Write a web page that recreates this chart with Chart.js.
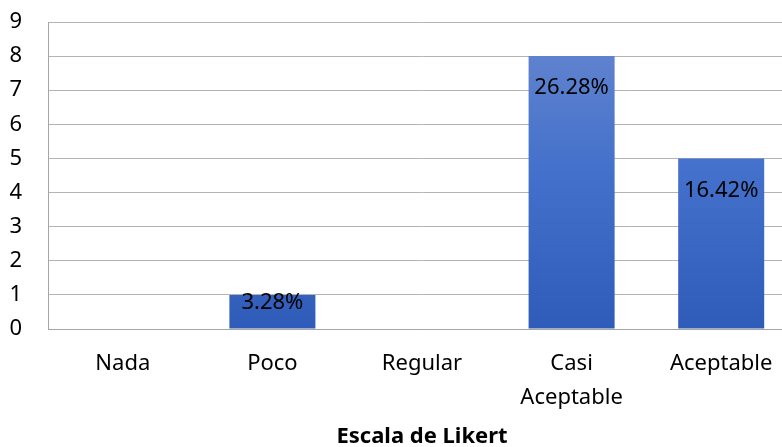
<!DOCTYPE html>
<html>
<head>
<meta charset="utf-8">
<script src="https://cdn.jsdelivr.net/npm/chart.js@4"></script>
<style>
    html, body { margin: 0; padding: 0; background: #fff; overflow: hidden; }
    #wrap { width: 800px; height: 447px; }
</style>
</head>
<body>
<div id="wrap"><canvas id="likertChart"></canvas></div>
<script>
const categorias = [['Nada'], ['Poco'], ['Regular'], ['Casi', 'Aceptable'], ['Aceptable']];
const valores = [0, 1, 0, 8, 5];
const etiquetas = ['', '3.28%', '', '26.28%', '16.42%'];
const ticksY = [0, 1, 2, 3, 4, 5, 6, 7, 8, 9];

const fuente = "'Noto Sans', 'Open Sans', sans-serif";

// Etiquetas dentro del extremo superior de cada barra
const etiquetasBarras = {
    id: 'etiquetasBarras',
    afterDatasetsDraw(chart) {
        const ctx = chart.ctx;
        const meta = chart.getDatasetMeta(0);
        ctx.save();
        ctx.font = `22px ${fuente}`;
        ctx.fillStyle = '#000';
        ctx.textAlign = 'center';
        ctx.textBaseline = 'middle';
        meta.data.forEach((bar, i) => {
            if (!etiquetas[i]) return;
            const y = Math.min(bar.y + 32, bar.base - 26);
            ctx.fillText(etiquetas[i], bar.x, y);
        });
        ctx.restore();
    }
};

const ctx = document.getElementById('likertChart').getContext('2d');

new Chart(ctx, {
    type: 'bar',
    data: {
        labels: categorias,
        datasets: [{
            data: valores,
            backgroundColor: (c) => {
                const area = c.chart.chartArea;
                if (!area) return '#3a68c4';
                const g = c.chart.ctx.createLinearGradient(0, area.top, 0, area.bottom);
                g.addColorStop(0, '#6787cf');
                g.addColorStop(0.5, '#4270cb');
                g.addColorStop(1, '#2f5cb8');
                return g;
            },
            categoryPercentage: 0.575,
            barPercentage: 1
        }]
    },
    options: {
        responsive: true,
        maintainAspectRatio: false,
        animation: false,
        layout: { padding: { top: 22, right: 4, left: 0, bottom: 0 } },
        plugins: { legend: { display: false }, tooltip: { enabled: false } },
        scales: {
            y: {
                min: 0,
                max: 9,
                afterBuildTicks: (axis) => { axis.ticks = ticksY.map(v => ({ value: v })); },
                afterFit: (axis) => { axis.width = 48; axis.paddingTop = 0; axis.paddingBottom = 0; },
                grid: { color: '#b4b4b4', lineWidth: 1, drawTicks: false },
                border: { display: true, color: '#a6a6a6' },
                ticks: { color: '#000', font: { family: fuente, size: 22 }, padding: 26 }
            },
            x: {
                afterFit: (axis) => { axis.height = 118; axis.paddingLeft = 0; axis.paddingRight = 0; },
                grid: { display: false },
                border: { display: true, color: '#a6a6a6' },
                ticks: { color: '#000', font: { family: fuente, size: 22, lineHeight: 1.55 }, padding: 10, maxRotation: 0 },
                title: {
                    display: true,
                    text: 'Escala de Likert',
                    color: '#000',
                    font: { family: fuente, size: 22, weight: 'bold' },
                    padding: { top: 0, bottom: -3 }
                }
            }
        }
    },
    plugins: [etiquetasBarras]
});
</script>
</body>
</html>
